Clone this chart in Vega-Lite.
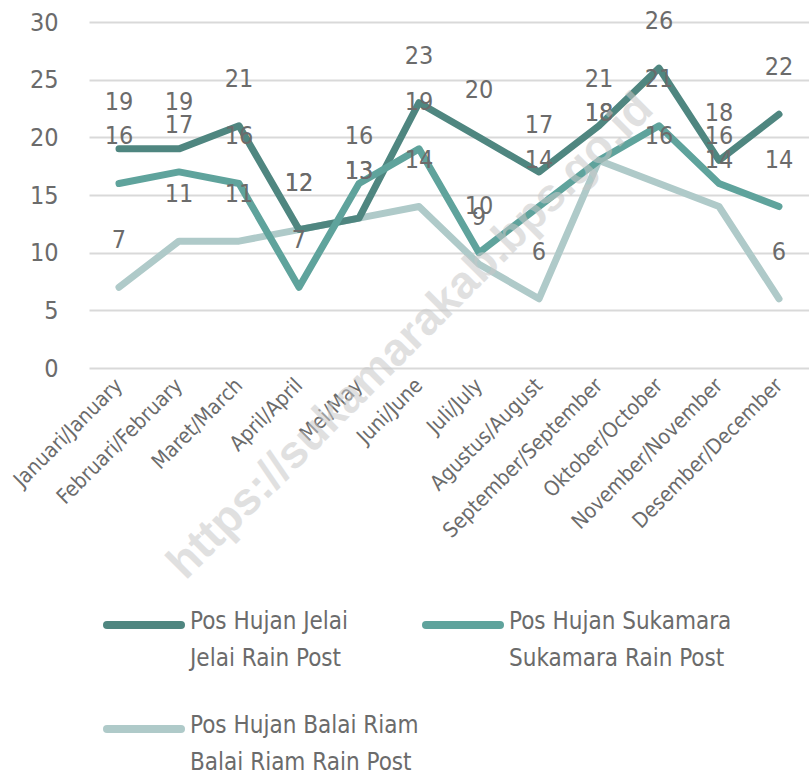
{
  "$schema": "https://vega.github.io/schema/vega-lite/v6.json",
  "width": 720,
  "height": 346,
  "autosize": {"type": "none"},
  "padding": {"left": 89, "top": 22, "right": 0, "bottom": 416},
  "background": "white",
  "config": {
    "view": {"stroke": null},
    "font": "DejaVu Sans Condensed, Liberation Sans, sans-serif"
  },
  "datasets": {
    "rain": [
      {"month": "Januari/January", "series": "Pos Hujan Jelai|Jelai Rain Post", "value": 19},
      {"month": "Februari/February", "series": "Pos Hujan Jelai|Jelai Rain Post", "value": 19},
      {"month": "Maret/March", "series": "Pos Hujan Jelai|Jelai Rain Post", "value": 21},
      {"month": "April/April", "series": "Pos Hujan Jelai|Jelai Rain Post", "value": 12},
      {"month": "Mei/May", "series": "Pos Hujan Jelai|Jelai Rain Post", "value": 13},
      {"month": "Juni/June", "series": "Pos Hujan Jelai|Jelai Rain Post", "value": 23},
      {"month": "Juli/July", "series": "Pos Hujan Jelai|Jelai Rain Post", "value": 20},
      {"month": "Agustus/August", "series": "Pos Hujan Jelai|Jelai Rain Post", "value": 17},
      {"month": "September/September", "series": "Pos Hujan Jelai|Jelai Rain Post", "value": 21},
      {"month": "Oktober/October", "series": "Pos Hujan Jelai|Jelai Rain Post", "value": 26},
      {"month": "November/November", "series": "Pos Hujan Jelai|Jelai Rain Post", "value": 18},
      {"month": "Desember/December", "series": "Pos Hujan Jelai|Jelai Rain Post", "value": 22},
      {"month": "Januari/January", "series": "Pos Hujan Sukamara|Sukamara Rain Post", "value": 16},
      {"month": "Februari/February", "series": "Pos Hujan Sukamara|Sukamara Rain Post", "value": 17},
      {"month": "Maret/March", "series": "Pos Hujan Sukamara|Sukamara Rain Post", "value": 16},
      {"month": "April/April", "series": "Pos Hujan Sukamara|Sukamara Rain Post", "value": 7},
      {"month": "Mei/May", "series": "Pos Hujan Sukamara|Sukamara Rain Post", "value": 16},
      {"month": "Juni/June", "series": "Pos Hujan Sukamara|Sukamara Rain Post", "value": 19},
      {"month": "Juli/July", "series": "Pos Hujan Sukamara|Sukamara Rain Post", "value": 10},
      {"month": "Agustus/August", "series": "Pos Hujan Sukamara|Sukamara Rain Post", "value": 14},
      {"month": "September/September", "series": "Pos Hujan Sukamara|Sukamara Rain Post", "value": 18},
      {"month": "Oktober/October", "series": "Pos Hujan Sukamara|Sukamara Rain Post", "value": 21},
      {"month": "November/November", "series": "Pos Hujan Sukamara|Sukamara Rain Post", "value": 16},
      {"month": "Desember/December", "series": "Pos Hujan Sukamara|Sukamara Rain Post", "value": 14},
      {"month": "Januari/January", "series": "Pos Hujan Balai Riam|Balai Riam Rain Post", "value": 7},
      {"month": "Februari/February", "series": "Pos Hujan Balai Riam|Balai Riam Rain Post", "value": 11},
      {"month": "Maret/March", "series": "Pos Hujan Balai Riam|Balai Riam Rain Post", "value": 11},
      {"month": "April/April", "series": "Pos Hujan Balai Riam|Balai Riam Rain Post", "value": 12},
      {"month": "Mei/May", "series": "Pos Hujan Balai Riam|Balai Riam Rain Post", "value": 13},
      {"month": "Juni/June", "series": "Pos Hujan Balai Riam|Balai Riam Rain Post", "value": 14},
      {"month": "Juli/July", "series": "Pos Hujan Balai Riam|Balai Riam Rain Post", "value": 9},
      {"month": "Agustus/August", "series": "Pos Hujan Balai Riam|Balai Riam Rain Post", "value": 6},
      {"month": "September/September", "series": "Pos Hujan Balai Riam|Balai Riam Rain Post", "value": 18},
      {"month": "Oktober/October", "series": "Pos Hujan Balai Riam|Balai Riam Rain Post", "value": 16},
      {"month": "November/November", "series": "Pos Hujan Balai Riam|Balai Riam Rain Post", "value": 14},
      {"month": "Desember/December", "series": "Pos Hujan Balai Riam|Balai Riam Rain Post", "value": 6}
    ],
    "wm": [{"t": "https://sukamarakab.bps.go.id", "m": "Juni/June", "v": 3.5}]
  },
  "data": {"name": "rain"},
  "encoding": {
    "x": {
      "field": "month",
      "type": "nominal",
      "scale": {
        "type": "point",
        "padding": 0.5,
        "domain": ["Januari/January", "Februari/February", "Maret/March", "April/April", "Mei/May", "Juni/June", "Juli/July", "Agustus/August", "September/September", "Oktober/October", "November/November", "Desember/December"]
      },
      "axis": {
        "title": null,
        "domain": false,
        "ticks": false,
        "labelAngle": -45,
        "labelAlign": "right",
        "labelBaseline": "middle",
        "labelPadding": 14,
        "labelFontSize": 21,
        "labelColor": "#6b6b6b",
        "labelLimit": 0
      }
    },
    "y": {
      "field": "value",
      "type": "quantitative",
      "scale": {"domain": [0, 30], "nice": false},
      "axis": {
        "title": null,
        "values": [0, 5, 10, 15, 20, 25, 30],
        "domain": false,
        "ticks": false,
        "grid": true,
        "gridColor": "#d9d9d9",
        "gridWidth": 2,
        "labelPadding": 31,
        "labelFontSize": 25,
        "labelColor": "#6b6b6b"
      }
    }
  },
  "layer": [
    {
      "transform": [{"filter": "datum.series == 'Pos Hujan Balai Riam|Balai Riam Rain Post'"}],
      "mark": {"type": "line", "strokeWidth": 7, "strokeCap": "round", "strokeJoin": "round"},
      "encoding": {
        "color": {"field": "series", "type": "nominal"}
      }
    },
    {
      "transform": [{"filter": "datum.series == 'Pos Hujan Jelai|Jelai Rain Post'"}],
      "mark": {"type": "line", "strokeWidth": 7, "strokeCap": "round", "strokeJoin": "round"},
      "encoding": {
        "color": {"field": "series", "type": "nominal"}
      }
    },
    {
      "transform": [{"filter": "datum.series == 'Pos Hujan Sukamara|Sukamara Rain Post'"}],
      "mark": {"type": "line", "strokeWidth": 7, "strokeCap": "round", "strokeJoin": "round"},
      "encoding": {
        "color": {
          "field": "series",
          "type": "nominal",
          "scale": {
            "domain": ["Pos Hujan Jelai|Jelai Rain Post", "Pos Hujan Sukamara|Sukamara Rain Post", "Pos Hujan Balai Riam|Balai Riam Rain Post"],
            "range": ["#4f8680", "#5fa39c", "#afcac9"]
          },
          "legend": {
            "title": null,
            "orient": "none",
            "legendX": 14,
            "legendY": 562,
            "direction": "horizontal",
            "columns": 2,
            "symbolType": "stroke",
            "symbolSize": 5476,
            "symbolStrokeWidth": 8,
            "labelFontSize": 24,
            "labelColor": "#6b6b6b",
            "labelLimit": 0,
            "labelOffset": 5,
            "labelBaseline": "top",
            "rowPadding": 17,
            "columnPadding": -9,
            "labelExpr": "split(datum.label, '|')",
            "encode": {
              "symbols": {"update": {"strokeCap": {"value": "round"}}},
              "labels": {"update": {"lineHeight": {"value": 37}, "dy": {"value": -15}}}
            }
          }
        }
      }
    },
    {
      "mark": {"type": "text", "fontSize": 25, "color": "#6b6b6b", "baseline": "middle", "align": "center", "dy": -47},
      "encoding": {
        "text": {"field": "value", "type": "quantitative"}
      }
    },
    {
      "data": {"name": "wm"},
      "mark": {"type": "text", "font": "Liberation Sans", "fontWeight": "bold", "fontSize": 46, "angle": -45, "align": "center", "baseline": "middle", "color": "#c8c8c8", "opacity": 0.55, "dx": -12},
      "encoding": {
        "x": {"field": "m", "type": "nominal"},
        "y": {"field": "v", "type": "quantitative"},
        "text": {"field": "t", "type": "nominal"}
      }
    }
  ]
}
